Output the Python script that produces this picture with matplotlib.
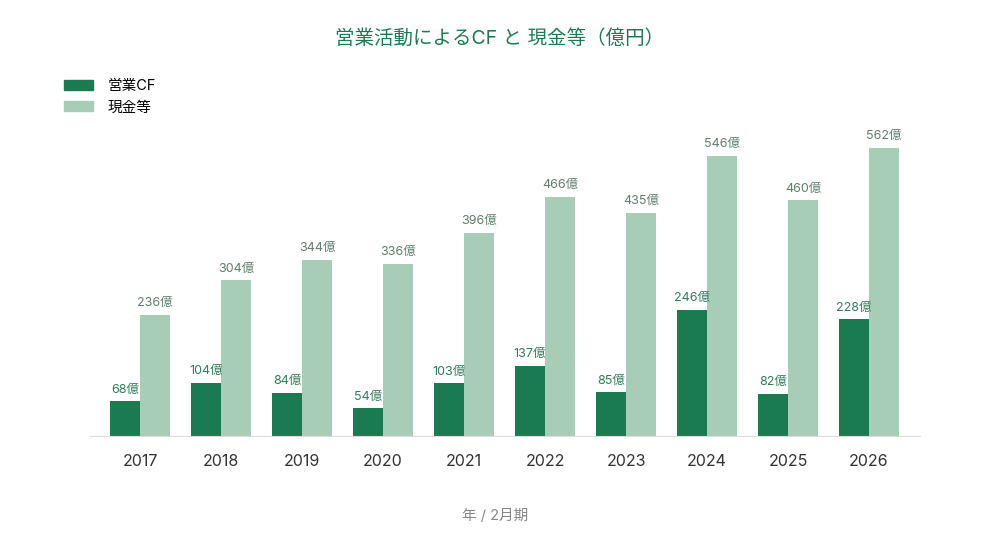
import numpy as np
import matplotlib.pyplot as plt
from matplotlib.patches import Patch

plt.rcParams['font.family'] = ['Inter', 'Noto Sans CJK JP', 'DejaVu Sans']

years = ['2017', '2018', '2019', '2020', '2021', '2022', '2023', '2024', '2025', '2026']
op_cf = [68, 104, 84, 54, 103, 137, 85, 246, 82, 228]
cash = [236, 304, 344, 336, 396, 466, 435, 546, 460, 562]

dark = '#1b7b50'
light = '#a8cdb6'

fig = plt.figure(figsize=(9.9, 5.39), dpi=100)
ax = fig.add_axes([90 / 990, 1 - 436 / 539, 830 / 990, 316 / 539])

x = np.arange(len(years))
w = 0.37
b1 = ax.bar(x - w / 2, op_cf, w, color=dark)
b2 = ax.bar(x + w / 2, cash, w, color=light)

for rect, v in zip(b1, op_cf):
    ax.annotate(f'{v}億', (rect.get_x() + rect.get_width() / 2, v),
                xytext=(0, 4), textcoords='offset points',
                ha='center', va='bottom', fontsize=9, color='#2f7d5a')
for rect, v in zip(b2, cash):
    ax.annotate(f'{v}億', (rect.get_x() + rect.get_width() / 2, v),
                xytext=(0, 4), textcoords='offset points',
                ha='center', va='bottom', fontsize=9, color='#5e7f6d')

ax.set_xlim(-50 / 81, 780 / 81)
ax.set_ylim(0, 616)
ax.set_xticks(x)
ax.set_xticklabels(years, fontsize=11.5, color='#333333')
ax.tick_params(axis='x', length=0, pad=13)
ax.set_yticks([])
for s in ['top', 'right', 'left']:
    ax.spines[s].set_visible(False)
ax.spines['bottom'].set_color('#dddddd')

fig.text(500 / 990, 1 - 38 / 539, '営業活動によるCF と 現金等（億円）', ha='center', va='center',
         fontsize=14, color='#1b7b50')
fig.text(495 / 990, 1 - 516 / 539, '年 / 2月期', ha='center', va='center',
         fontsize=10.5, color='#888888')

handles = [Patch(color=dark, label='営業CF'), Patch(color=light, label='現金等')]
fig.legend(handles=handles, loc='upper left', bbox_to_anchor=(51 / 990, 1 - 66 / 539),
           frameon=False, fontsize=10.5, handlelength=2.0, handleheight=0.7,
           handletextpad=1.0, labelspacing=0.5)

fig.savefig('out.png', dpi=100)
